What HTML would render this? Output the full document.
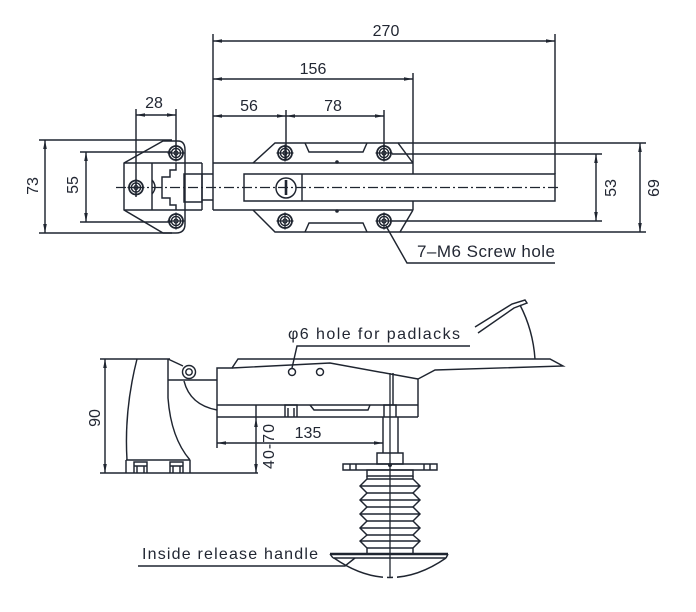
<!DOCTYPE html>
<html><head><meta charset="utf-8"><style>
html,body{margin:0;padding:0;background:#fff;}
svg{display:block;}
text{font-family:"Liberation Sans",Arial,sans-serif;fill:#222733;}
</style></head><body>
<svg width="696" height="612" viewBox="0 0 696 612" xmlns="http://www.w3.org/2000/svg">
<defs>
<marker id="a" viewBox="0 0 9 5" refX="9" refY="2.5" markerWidth="9" markerHeight="5" markerUnits="userSpaceOnUse" orient="auto-start-reverse"><path d="M0,0.7 L9,2.5 L0,4.3z" fill="#1f2530"/></marker>
<g id="s" fill="none" stroke="#1f2530"><circle r="7" stroke-width="1.8"/><circle r="4.6" stroke-width="1.4"/><circle r="2" stroke-width="1.2"/><path d="M-8.5,0H8.5M0,-8.5V8.5" stroke-width="1.3"/></g>
</defs>
<rect width="696" height="612" fill="#fff"/>
<g stroke="#1f2530" stroke-width="1.45" fill="none">
<!-- TOP VIEW dimension lines -->
<line x1="213" y1="41" x2="555" y2="41" marker-start="url(#a)" marker-end="url(#a)"/>
<line x1="213" y1="79" x2="413" y2="79" marker-start="url(#a)" marker-end="url(#a)"/>
<line x1="213" y1="116" x2="286" y2="116" marker-start="url(#a)" marker-end="url(#a)"/>
<line x1="286" y1="116" x2="384" y2="116" marker-start="url(#a)" marker-end="url(#a)"/>
<line x1="136" y1="115" x2="176" y2="115" marker-start="url(#a)" marker-end="url(#a)"/>
<line x1="45" y1="140" x2="45" y2="233" marker-start="url(#a)" marker-end="url(#a)"/>
<line x1="86" y1="152" x2="86" y2="222" marker-start="url(#a)" marker-end="url(#a)"/>
<line x1="596" y1="154" x2="596" y2="221" marker-start="url(#a)" marker-end="url(#a)"/>
<line x1="640" y1="143" x2="640" y2="232" marker-start="url(#a)" marker-end="url(#a)"/>
<!-- extension lines -->
<path d="M213,34V210M555,34V174M413,73V174M286,110V160M384,110V160M136,109V197M176,109V158
M39,140H172M39,233H172M80,152H172M80,222H172M392,154H602M392,221H602M398,143H646M400,232H646"/>
<!-- body -->
<path d="M213,163H413M213,210H413M413,201V210"/>
<path d="M244,174H555V201H244Z"/>
<path d="M302,174V201"/>
<circle cx="286" cy="188" r="10"/>
<path d="M253,163L275,143H398L413,163"/>
<path d="M253,210L275,232H400L413,210"/>
<path d="M305,143L309,152H363L367,143"/>
<path d="M305,232L309,223H363L367,232"/>
<!-- left bracket -->
<path d="M124,163L163,141H178Q185,141 185,150V224Q185,233 176,233H163L124,210Z"/>
<path d="M124,163H202M124,210H202M152,163V210"/>
<path d="M152,180Q158,187 152,194"/>
<path d="M176,163V170H170V177H162V198H170V205H176V210M202,163V210"/>
<path d="M184,174H202V202H184Z"/>
<path d="M202,174H213M202,200H213"/>
<!-- centerline -->
<path d="M116,187.5H560" stroke-width="1.2" stroke-dasharray="10,3,2,3"/>
<!-- leader -->
<path d="M386,226L407,263H555"/>

<!-- SIDE VIEW -->
<line x1="105" y1="359" x2="105" y2="473" marker-start="url(#a)" marker-end="url(#a)"/>
<path d="M100,359H170M100,473H258"/>
<path d="M137,359Q124,410 127,460"/>
<path d="M168,359V398Q171,438 190,460"/>
<path d="M126,460H190M126,460V473M190,460V473"/>
<path d="M134,473V462H147V473M137,466V473M144,466V473M134,466H147"/>
<path d="M170,473V462H183V473M173,466V473M180,466V473M170,466H183"/>
<path d="M168,359L183,366"/>
<circle cx="189" cy="372" r="6.5"/>
<circle cx="189" cy="372" r="3.2"/>
<path d="M168,380H217"/>
<path d="M184,381Q190,405 217,410"/>
<!-- body side -->
<path d="M217,448V368H232L238,359H550L563,366L435,370L418,379V417"/>
<path d="M232,368L330,363L418,379"/>
<path d="M217,405H418M217,417H418"/>
<path d="M285,417V405H297V417M288,408V417M294,408V417"/>
<path d="M384,417V405H396V417"/>
<path d="M310,405L314,410H368L370,405"/>
<circle cx="292" cy="372" r="3.5"/>
<circle cx="320" cy="372" r="3.5"/>
<path d="M292,368L297,346H470"/>
<!-- lever -->
<path d="M475,327L512,304L525,300L527,303L514,308L478,333"/>
<path d="M520,305Q533,330 535,359"/>
<!-- rod & plunger -->
<path d="M390,373V577" stroke-width="1.3"/>
<path d="M393,373V405"/>
<path d="M383,417V453M398,417V453"/>
<path d="M377,453H403V464H377Z"/>
<path d="M343,464H437V470H343Z"/>
<path d="M350,464V470M356,464V470M424,464V470M430,464V470"/>
<!-- 135 dim -->
<line x1="217" y1="443" x2="383" y2="443" marker-start="url(#a)" marker-end="url(#a)"/>
<!-- 40-70 dim -->
<path d="M256,405V418"/>
<line x1="256" y1="418" x2="256" y2="473" marker-start="url(#a)" marker-end="url(#a)"/>
<!-- bellows -->
<path d="M367,470H413V476H367Z"/>
<path d="M367,476V479L360,486L367,493L360,500L367,507L360,514L367,521L360,528L367,535L360,541L367,548V553"/>
<path d="M413,476V479L420,486L413,493L420,500L413,507L420,514L413,521L420,528L413,535L420,541L413,548V553"/>
<path d="M367,479H413M360,486H420M367,493H413M360,500H420M367,507H413M360,514H420M367,521H413M360,528H420M367,535H413M360,541H420M367,548H413"/>
<!-- handle -->
<path d="M330,554H448" stroke-width="2.6"/>
<path d="M333,558H446M330,554L333,558M448,554L446,558"/>
<path d="M334,558Q390,597 446,558"/>
<path d="M138,566H345L355,558"/>
</g>
<rect x="383" y="570" width="4" height="12" fill="#fff"/>
<rect x="393" y="570" width="4" height="12" fill="#fff"/>
<!-- fills -->
<g fill="#1f2530">
<rect x="284.7" y="180" width="2.6" height="15"/>
<circle cx="337" cy="162" r="1.8"/>
<circle cx="337" cy="211" r="1.8"/>
<circle cx="390" cy="465" r="2"/>
</g>
<use href="#s" x="285" y="153"/>
<use href="#s" x="384" y="153"/>
<use href="#s" x="285" y="221"/>
<use href="#s" x="384" y="221"/>
<use href="#s" x="176" y="153"/>
<use href="#s" x="176" y="221"/>
<use href="#s" x="136" y="187.5"/>
<!-- texts -->
<g font-size="16" text-anchor="middle">
<text x="386" y="36">270</text>
<text x="313" y="74">156</text>
<text x="249" y="111">56</text>
<text x="333" y="111">78</text>
<text x="154" y="108">28</text>
<text x="308" y="438">135</text>
<text transform="translate(38,186) rotate(-90)">73</text>
<text transform="translate(78,185) rotate(-90)">55</text>
<text transform="translate(616,188) rotate(-90)">53</text>
<text transform="translate(659,188) rotate(-90)">69</text>
<text transform="translate(100,418) rotate(-90)">90</text>
<text transform="translate(274,446) rotate(-90)" letter-spacing="1">40-70</text>
</g>
<text x="417" y="257" font-size="17" textLength="138" lengthAdjust="spacing">7–M6 Screw hole</text>
<text x="288" y="339" font-size="16" textLength="172" lengthAdjust="spacing">φ6  hole for padlacks</text>
<text x="142" y="559" font-size="16" textLength="176" lengthAdjust="spacing">Inside release handle</text>
</svg>
</body></html>
